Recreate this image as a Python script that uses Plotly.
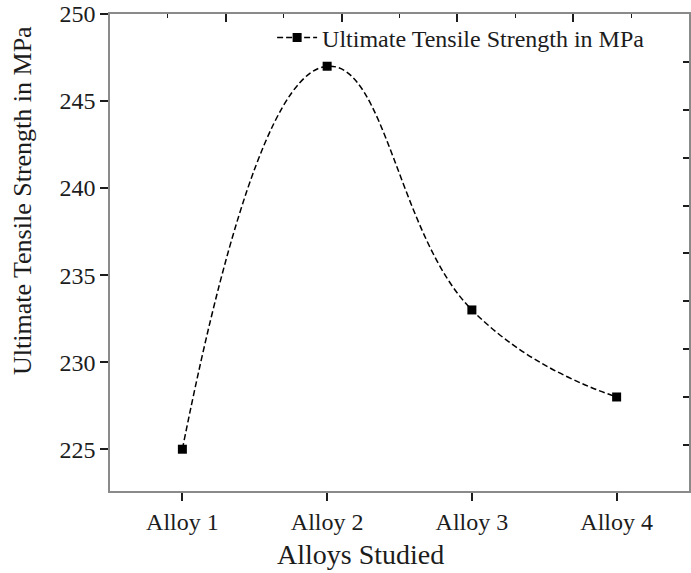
import plotly.graph_objects as go

# Ultimate tensile strength measured for each alloy
alloys = ["Alloy 1", "Alloy 2", "Alloy 3", "Alloy 4"]
uts_mpa = [225, 247, 233, 228]
y_ticks = [225, 230, 235, 240, 245, 250]

SERIF = "Liberation Serif, Times New Roman, serif"
INK = "#1c1c1c"
FRAME = "#8a8a8a"

fig = go.Figure()

fig.add_trace(go.Scatter(
    x=alloys,
    y=uts_mpa,
    mode="lines+markers",
    name="Ultimate Tensile Strength in MPa",
    line=dict(color="black", width=1.5, shape="spline", smoothing=1.3, dash="6px,3px"),
    marker=dict(symbol="square", size=9, color="black"),
))

# Invisible helper trace so the top / right frame axes get drawn
fig.add_trace(go.Scatter(
    x=[0], y=[250], xaxis="x2", yaxis="y2",
    mode="markers", marker=dict(opacity=0), showlegend=False, hoverinfo="skip",
))

fig.update_layout(
    width=691, height=573,
    margin=dict(l=110, r=2, t=14, b=82),
    paper_bgcolor="white",
    plot_bgcolor="white",
    font=dict(family=SERIF, color=INK, size=24),
    showlegend=True,
    legend=dict(
        x=0.28, y=0.997, xanchor="left", yanchor="top",
        bgcolor="rgba(0,0,0,0)", font=dict(size=24, family=SERIF, color=INK),
        itemwidth=40,
    ),
    xaxis=dict(
        type="category",
        range=[-0.5, 3.5],
        showgrid=False, zeroline=False,
        showline=True, linecolor=FRAME, linewidth=1.5,
        ticks="outside", ticklen=8, tickwidth=1.5, tickcolor=INK,
        tickfont=dict(size=24, family=SERIF, color=INK),
    ),
    yaxis=dict(
        range=[222.6, 250],
        tickvals=y_ticks,
        showgrid=False, zeroline=False,
        showline=True, linecolor=FRAME, linewidth=1.5,
        ticks="outside", ticklen=8, tickwidth=1.5, tickcolor=INK,
        tickfont=dict(size=24, family=SERIF, color=INK),
    ),
    xaxis2=dict(
        overlaying="x", side="top", anchor="y",
        range=[-0.5, 3.5],
        tick0=0.3, dtick=0.8,
        showticklabels=False, showgrid=False, zeroline=False,
        showline=True, linecolor=FRAME, linewidth=1.5,
        ticks="inside", ticklen=8, tickwidth=1.5, tickcolor=INK,
        minor=dict(ticks="inside", ticklen=4, tickwidth=1, tickcolor=INK, dtick=0.4, tick0=0.3),
    ),
    yaxis2=dict(
        overlaying="y", side="right", anchor="x",
        range=[222.6, 250],
        tick0=250, dtick=2.75,
        showticklabels=False, showgrid=False, zeroline=False,
        showline=True, linecolor=FRAME, linewidth=1.5,
        ticks="inside", ticklen=6, tickwidth=1.5, tickcolor=INK,
    ),
    annotations=[
        dict(
            text="Alloys Studied", xref="paper", yref="paper",
            x=0.432, y=-0.134, xanchor="center", yanchor="middle",
            showarrow=False, font=dict(size=28, family=SERIF, color=INK),
        ),
        dict(
            text="Ultimate Tensile Strength in MPa", xref="paper", yref="paper",
            x=-0.152, y=0.61, xanchor="center", yanchor="middle", textangle=-90,
            showarrow=False, font=dict(size=26, family=SERIF, color=INK),
        ),
    ],
)

fig.write_html("out.html")
